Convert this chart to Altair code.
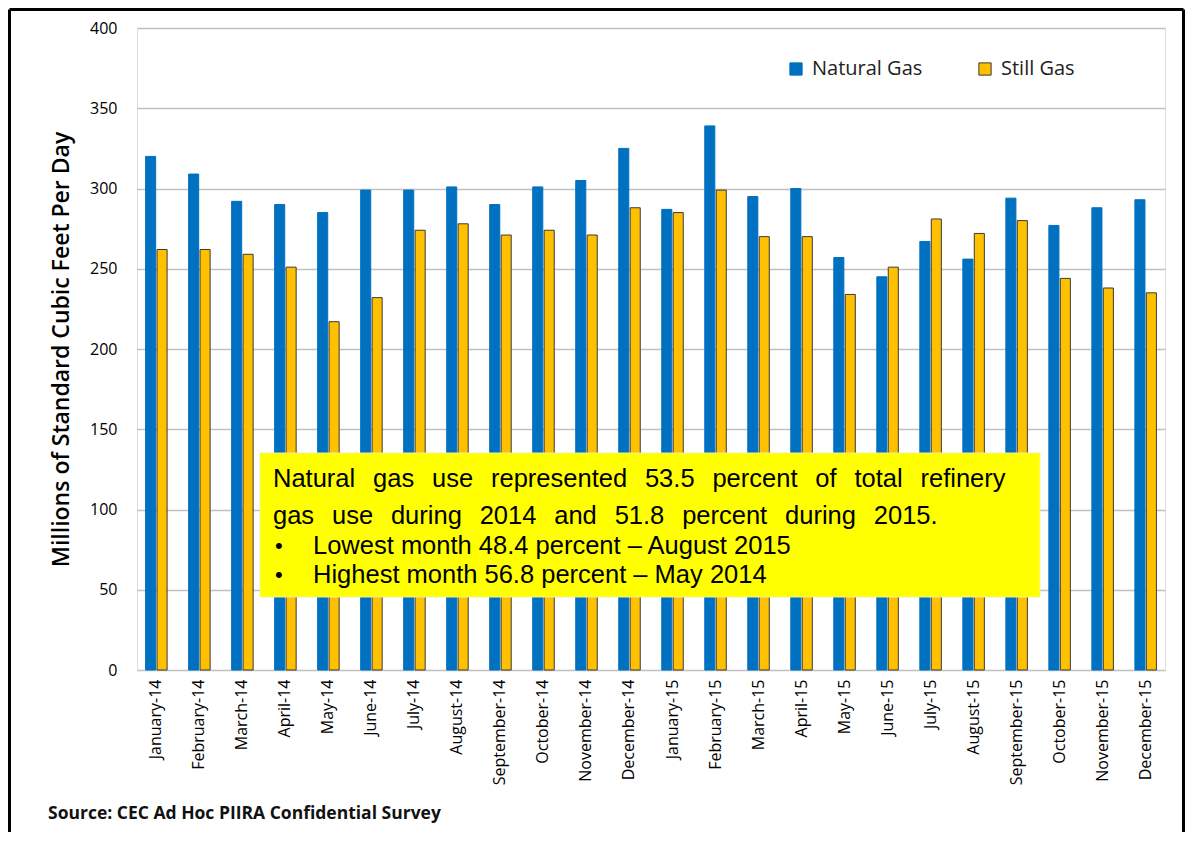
import altair as alt
import pandas as pd

months = ["January-14", "February-14", "March-14", "April-14", "May-14", "June-14",
          "July-14", "August-14", "September-14", "October-14", "November-14", "December-14",
          "January-15", "February-15", "March-15", "April-15", "May-15", "June-15",
          "July-15", "August-15", "September-15", "October-15", "November-15", "December-15"]
natural_gas = [320, 309, 292, 290, 285, 299, 299, 301, 290, 301, 305, 325,
               287, 339, 295, 300, 257, 245, 267, 256, 294, 277, 288, 293]
still_gas = [262, 262, 259, 251, 217, 232, 274, 278, 271, 274, 271, 288,
             285, 299, 270, 270, 234, 251, 281, 272, 280, 244, 238, 235]
series = ["Natural Gas", "Still Gas"]
colors = ["#0070C0", "#FFC000"]
strokes = ["#0070C0", "#3a3a3a"]
y_title = "Millions of Standard Cubic Feet Per Day"
source_text = "Source: CEC Ad Hoc PIIRA Confidential Survey"
note_lines = ["Natural gas use represented 53.5 percent of total refinery",
              "gas use during 2014 and 51.8 percent during 2015."]
bullet_lines = ["Lowest month 48.4 percent \u2013 August 2015",
                "Highest month 56.8 percent \u2013 May 2014"]

rows = []
for m, ng, sg in zip(months, natural_gas, still_gas):
    rows.append({"month": m, "series": series[0], "value": ng})
    rows.append({"month": m, "series": series[1], "value": sg})
df = pd.DataFrame(rows)

W, H = 1028, 642
PAD_L, PAD_T, PAD_R, PAD_B = 129, 20, 20, 162
FONT = "Open Sans"

legend_cfg = dict(orient="none", legendX=649, legendY=31, direction="horizontal",
                  title=None, symbolType="square", symbolSize=150, symbolStrokeWidth=1,
                  labelFont=FONT, labelFontSize=20, labelColor="#222222",
                  columnPadding=52, labelOffset=6)

bars = alt.Chart(df).mark_bar(strokeWidth=1).encode(
    x=alt.X("month:N", sort=months, title=None,
            scale=alt.Scale(paddingInner=0.5, paddingOuter=0.2),
            axis=alt.Axis(labelAngle=270, labelFont=FONT, labelFontSize=16,
                          labelColor="black", labelPadding=9, ticks=False,
                          domain=False, grid=False)),
    xOffset=alt.XOffset("series:N", sort=series, scale=alt.Scale(paddingInner=0.12)),
    y=alt.Y("value:Q", title=y_title,
            scale=alt.Scale(domain=[0, 400], nice=False),
            axis=alt.Axis(values=list(range(0, 401, 50)), labelFont=FONT, labelFontSize=16,
                          labelColor="black", labelPadding=20, ticks=False, domain=False,
                          grid=True, gridColor="#c0c0c0", gridWidth=1.5,
                          titleFont=FONT, titleFontSize=23, titleFontWeight=600,
                          titleColor="black", titlePadding=16)),
    color=alt.Color("series:N", sort=series, scale=alt.Scale(domain=series, range=colors),
                    legend=alt.Legend(**legend_cfg)),
    stroke=alt.Stroke("series:N", sort=series, scale=alt.Scale(domain=series, range=strokes),
                      legend=alt.Legend(**legend_cfg)),
)

one = pd.DataFrame({"a": [0]})

box = alt.Chart(one).mark_rect(fill="#FFFF00", stroke="#f0f0a0", strokeWidth=1).encode(
    x=alt.value(123), x2=alt.value(903), y=alt.value(425), y2=alt.value(569))

GAP = "\u2002\u2009"  # the note's first two lines are justified in the original
texts = []
for i, line in enumerate(note_lines):
    texts.append(alt.Chart(pd.DataFrame({"t": [line.replace(" ", GAP)]})).mark_text(
        align="left", baseline="middle", font="Liberation Sans", fontSize=25.5, color="black"
    ).encode(x=alt.value(136), y=alt.value(451 + i * 37), text="t:N"))
for i, line in enumerate(bullet_lines):
    texts.append(alt.Chart(pd.DataFrame({"t": ["\u2022"]})).mark_text(
        align="left", baseline="middle", font="Liberation Sans", fontSize=22, color="black"
    ).encode(x=alt.value(138), y=alt.value(518 + i * 29), text="t:N"))
    texts.append(alt.Chart(pd.DataFrame({"t": [line]})).mark_text(
        align="left", baseline="middle", font="Liberation Sans", fontSize=25.5, color="black"
    ).encode(x=alt.value(176), y=alt.value(518 + i * 29), text="t:N"))

source = alt.Chart(pd.DataFrame({"t": [source_text]})).mark_text(
    align="left", baseline="middle", font=FONT, fontSize=17.5, fontWeight="bold", color="#111111"
).encode(x=alt.value(-89), y=alt.value(786), text="t:N")

fx0, fy0 = -PAD_L + 1.5, -PAD_T + 1.5
fx1, fy1 = W + PAD_R - 1.5, H + PAD_B + 10
frame_left = alt.Chart(one).mark_rule(color="black", strokeWidth=3).encode(
    x=alt.value(fx0), y=alt.value(fy0), y2=alt.value(fy1))
frame_right = alt.Chart(one).mark_rule(color="black", strokeWidth=3).encode(
    x=alt.value(fx1), y=alt.value(fy0), y2=alt.value(fy1))
frame_top = alt.Chart(one).mark_rule(color="black", strokeWidth=3).encode(
    x=alt.value(fx0), x2=alt.value(fx1), y=alt.value(fy0))

chart = alt.layer(bars, box, *texts, source, frame_left, frame_right, frame_top).properties(
    width=W, height=H,
    autosize=alt.AutoSizeParams(type="none"),
    padding={"left": PAD_L, "top": PAD_T, "right": PAD_R, "bottom": PAD_B},
).configure_view(stroke=None).configure(background="white")

chart.save("out.html", embed_options={"renderer": "svg", "actions": False})
